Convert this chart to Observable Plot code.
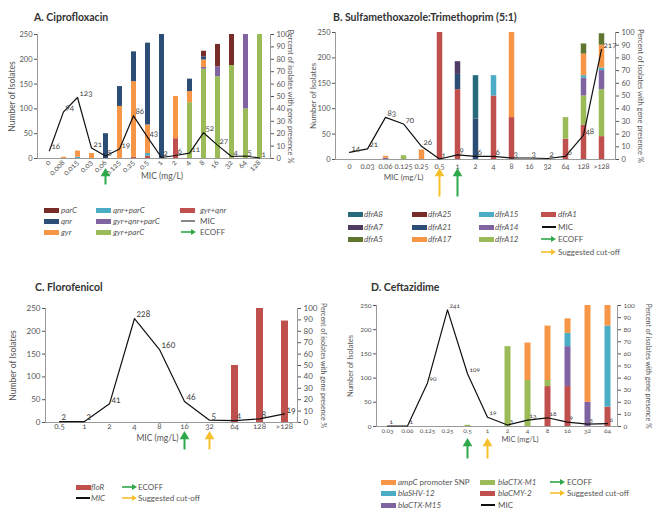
<!DOCTYPE html>
<html><head><meta charset="utf-8">
<script src="https://cdn.jsdelivr.net/npm/d3@7"></script>
<script src="https://cdn.jsdelivr.net/npm/@observablehq/plot@0.6"></script>
<style>
body{margin:0;background:#fff;}
#root{position:relative;width:653px;height:517px;background:#fff;font-family:Lato,"Open Sans",sans-serif;color:#555;overflow:hidden;}
.ttl{position:absolute;font-weight:700;font-size:10.5px;color:#333;white-space:nowrap;}
.pn{position:absolute;}
.lg{position:absolute;font-size:8px;color:#555;white-space:nowrap;line-height:10px;}
.sw{position:absolute;height:5px;}
.sw svg{display:block;}
.it{font-style:italic;}
svg{font-variant-numeric:oldstyle-nums;}
</style></head>
<body><div id="root"></div>
<script>
// ---------- Panel A: Ciprofloxacin ----------
const catsA = ["0","0.008","0.015","0.03","0.06","0.125","0.25","0.5","1","2","4","8","16","32","64","128"];
const micA  = [16,94,123,21,5,19,86,43,2,6,11,52,27,4,5,1];
const genesA = ["gyr+qnr","gyr+parC","gyr+qnr+parC","qnr+parC","gyr","qnr","parC"];
const colorsA = ["#c0504d","#9bbb59","#8064a2","#4bacc6","#f79646","#2c4d75","#772c2a"];
const gyrQnrA     = [0,0,0,0,0,0,1,2,0,16,0,0,0,0,0,0];
const gyrParCA    = [0,0,0,0,0,0,0,0,0,0,45,72,66,75,40,100];
const gyrQnrParCA = [0,0,0,0,0,0,0,0,0,0,0,1.5,8,0,60,0];
const qnrParCA    = [0,0,1,0,0,0,0,2,0,0,0,0,0,0,0,0];
const gyrA        = [0,1,5,4,0,42,61,23,0,34,9,6,0,0,0,0];
const qnrA        = [0,0,0,0,20,16,24,66,100,0,10,2.5,0,0,0,0];
const parCA       = [0,0,0,0,0,0,0,0,0,0,0,4.5,18,25,0,0];
const ecoffA = "0.06";

// ---------- Panel B: Sulfamethoxazole:Trimethoprim ----------
const catsB = ["0","0.03","0.06","0.125","0.25","0.5","1","2","4","8","16","32","64","128",">128"];
const micB  = [14,21,83,70,26,1,9,6,6,3,3,2,6,48,217];
const genesB = ["dfrA1","dfrA12","dfrA14","dfrA15","dfrA17","dfrA5","dfrA21","dfrA8","dfrA7","dfrA25"];
const colorsB = ["#c0504d","#9bbb59","#8064a2","#4bacc6","#f79646","#5f7530","#2c4d75","#276a7c","#4d3b62","#772c2a"];
const dfrA1B  = [0,0,0,0,0,100,55,0,50,33,0,0,16,27,18];
const dfrA12B = [0,0,0,3,0,0,0,0,0,0,0,0,17,23,37];
const dfrA14B = [0,0,1,0,0,0,0,0,0,0,0,0,0,14,15];
const dfrA15B = [0,0,0,0,0,0,0,0,16,0,0,0,0,2,2];
const dfrA17B = [0,0,1.5,0,7.5,0,0,0,0,67,0,0,0,17,18];
const dfrA5B  = [0,0,0,0,0,0,0,0,0,0,0,0,0,8,9];
const dfrA21B = [0,0,0,0,0,0,12,32,0,0,0,0,0,0,0];
const dfrA8B  = [0,0,0,0,0,0,0,34,0,0,0,0,0,0,0];
const dfrA7B  = [0,0,0,0,0,0,10,0,0,0,0,0,0,0,0];
const dfrA25B = [0,0,0,0,0,0,0,0,0,0,0,0,0,0,0];
const ecoffB = "1", cutoffB = "0.5";

// ---------- Panel C: Florofenicol ----------
const catsC = ["0.5","1","2","4","8","16","32","64","128",">128"];
const micC  = [2,2,41,228,160,46,5,4,8,19];
const floRC = [0,0,0,0,0,0,0,50,100,89];
const ecoffC = "16", cutoffC = "32";

// ---------- Panel D: Ceftazidime ----------
const catsD = ["0.03","0.06","0.125","0.25","0.5","1","2","4","8","16","32","64"];
const micD  = [1,1,90,241,109,19,3,13,18,9,5,6];
const genesD = ["blaCMY-2","blaCTX-M1","blaCTX-M15","blaSHV-12","ampC promoter SNP"];
const colorsD = ["#c0504d","#9bbb59","#8064a2","#4bacc6","#f79646"];
const cmy2D   = [0,0,0,0,0,0,0,0,33,33,0,16];
const ctxM1D  = [0,0,0,0,1,0,66,38,5,0,0,0];
const ctxM15D = [0,0,0,0,0,0,0,0,0,33,20,0];
const shv12D  = [0,0,0,0,0,0,0,0,0,11,0,67];
const ampCD   = [0,0,0,0,0,0,0,31,45,12,80,17];
const ecoffD = "0.5", cutoffD = "1";

const GREEN = "#2ea84a", YELLOW = "#f6c02c", AX = "#9a9a9a";

function stackRows(cats, series){
  const rows=[];
  for(const [name, vals] of series) cats.forEach((c,i)=>{ if(vals[i]>0) rows.push({mic:c, gene:name, pct:vals[i]}); });
  return rows;
}

function panel(o){
  const [mt,mr,mb,ml] = o.m;
  const frameH = o.h - mt - mb;
  const k = 250/frameH; // counts per pixel
  const micRows = o.cats.map((c,i)=>({mic:c, count:o.mic[i]}));
  const arrows = [];
  const addArrow=(v,col)=>{
    arrows.push(Plot.link([v],{x1:d=>d,x2:d=>d,y1:-o.arrow[0]*k,y2:-(o.arrow[1]+4)*k,stroke:col,strokeWidth:2}));
    arrows.push(Plot.dot([v],{x:d=>d,y:-(o.arrow[1]+3)*k,symbol:"triangle",fill:col,r:3.6}));
  };
  if(o.cutoff) addArrow(o.cutoff,YELLOW);
  addArrow(o.ecoff,GREEN);
  const svg = Plot.plot({
    width:o.w, height:o.h, marginTop:mt, marginRight:mr, marginBottom:mb, marginLeft:ml,
    style:{fontFamily:"Lato, 'Open Sans', sans-serif", fontSize:o.fs+"px", color:"#555", background:"transparent", overflow:"visible"},
    x:{type:"point", domain:o.cats, padding:o.pad},
    y:{domain:[0,250]},
    color:{domain:o.genes, range:o.colors},
    marks:[
      Plot.ruleX(o.rows, Plot.stackY({x:"mic", y:d=>d.pct*2.5, stroke:"gene", strokeWidth:o.barW})),
      Plot.frame({anchor:"left", stroke:AX}),
      Plot.frame({anchor:"right", stroke:AX}),
      Plot.ruleY([0],{stroke:AX}),
      Plot.line(micRows,{x:"mic",y:"count",stroke:"#111",strokeWidth:1.2}),
      Plot.text(micRows,{x:"mic",y:"count",text:d=>String(d.count),dx:2,dy:-4,textAnchor:"start",fill:"#444",fontSize:o.vfs}),
      Plot.axisX({tickSize:0,tickPadding:o.tp,tickRotate:o.rot,label:null}),
      Plot.axisY({ticks:[0,50,100,150,200,250],tickSize:3,tickPadding:2,label:null}),
      Plot.axisY(d3.range(0,101,10).map(v=>v*2.5),{anchor:"right",tickFormat:v=>v/2.5,tickSize:3,tickPadding:3,label:null}),
      Plot.text(["Number of Isolates"],{frameAnchor:"left",textAnchor:"middle",rotate:-90,dx:o.ldx,fontSize:o.tfs,fill:"#555"}),
      Plot.text(["Percent of isolates with gene presence %"],{frameAnchor:"right",textAnchor:"middle",rotate:90,dx:o.rdx,fontSize:o.rfs,fill:"#555"}),
      Plot.text(["MIC (mg/L)"],{frameAnchor:"bottom",textAnchor:"middle",dx:o.mdx,dy:o.mdy,fontSize:o.tfs,fill:"#555"}),
      ...arrows
    ]
  });
  const div=document.createElement("div");
  div.className="pn"; div.style.left=o.x+"px"; div.style.top=o.y+"px";
  div.appendChild(svg);
  root.appendChild(div);
}

const root=document.getElementById("root");
function title(txt,x,y){const d=document.createElement("div");d.className="ttl";d.style.left=x+"px";d.style.top=y+"px";d.textContent=txt;root.appendChild(d);}
function sw(x,y,col){const d=document.createElement("div");d.className="sw";d.style.left=x+"px";d.style.top=(y-2.5)+"px";d.style.width="15px";d.style.background=col;root.appendChild(d);}
function ln(x,y,col){const d=document.createElement("div");d.className="sw";d.style.left=x+"px";d.style.top=(y-1)+"px";d.style.width="14px";d.style.height="1.5px";d.style.background=col;root.appendChild(d);}
function ar(x,y,col){const d=document.createElement("div");d.className="sw";d.style.left=x+"px";d.style.top=(y-4)+"px";d.style.height="8px";d.innerHTML=`<svg width="16" height="8"><line x1="0" y1="4" x2="11" y2="4" stroke="${col}" stroke-width="1.6"/><path d="M10,1 L15,4 L10,7 Z" fill="${col}"/></svg>`;root.appendChild(d);}
function lt(x,y,html){const d=document.createElement("div");d.className="lg";d.style.left=x+"px";d.style.top=(y-5.5)+"px";d.innerHTML=html;root.appendChild(d);}

// Titles
title("A. Ciprofloxacin",34,11);
title("B. Sulfamethoxazole:Trimethoprim (5:1)",333,11);
title("C. Florofenicol",35,281);
title("D. Ceftazidime",371,281);

panel({x:0,y:25,w:320,h:170,m:[9,50,37,37],pad:0.45,cats:catsA,mic:micA,genes:genesA,colors:colorsA,
  rows:stackRows(catsA,[["gyr+qnr",gyrQnrA],["gyr+parC",gyrParCA],["gyr+qnr+parC",gyrQnrParCA],["qnr+parC",qnrParCA],["gyr",gyrA],["qnr",qnrA],["parC",parCA]]),
  barW:5,rot:-45,tp:3,fs:7.5,vfs:8,tfs:8.5,rfs:7.5,ldx:-25,rdx:20,mdx:8,mdy:20,arrow:[26,12],ecoff:ecoffA});

panel({x:300,y:25,w:353,h:175,m:[7,38,41,35],pad:0.5,cats:catsB,mic:micB,genes:genesB,colors:colorsB,
  rows:stackRows(catsB,[["dfrA1",dfrA1B],["dfrA12",dfrA12B],["dfrA14",dfrA14B],["dfrA15",dfrA15B],["dfrA17",dfrA17B],["dfrA5",dfrA5B],["dfrA21",dfrA21B],["dfrA8",dfrA8B],["dfrA7",dfrA7B],["dfrA25",dfrA25B]]),
  barW:5.5,rot:0,tp:4,fs:7.5,vfs:8,tfs:8,rfs:7.5,ldx:-22,rdx:25,mdx:-72,mdy:20,arrow:[37,11],ecoff:ecoffB,cutoff:cutoffB});

panel({x:0,y:298,w:330,h:160,m:[10,33,36,45],pad:0.5,cats:catsC,mic:micC,genes:["floR"],colors:["#c0504d"],
  rows:stackRows(catsC,[["floR",floRC]]),
  barW:7,rot:0,tp:1,fs:8,vfs:8.5,tfs:8.5,rfs:7,ldx:-32,rdx:26,mdx:-14,mdy:18,arrow:[27,11],ecoff:ecoffC,cutoff:cutoffC});

panel({x:330,y:295,w:323,h:170,m:[10,36,39,46],pad:0.5,cats:catsD,mic:micD,genes:genesD,colors:colorsD,
  rows:stackRows(catsD,[["blaCMY-2",cmy2D],["blaCTX-M1",ctxM1D],["blaCTX-M15",ctxM15D],["blaSHV-12",shv12D],["ampC promoter SNP",ampCD]]),
  barW:6,rot:0,tp:2,fs:6.5,vfs:6.5,tfs:7.5,rfs:7,ldx:-26,rdx:31,mdx:23,mdy:15,arrow:[32,14],ecoff:ecoffD,cutoff:cutoffD});

// Legend A
["parC","qnr","gyr"].forEach((n,r)=>{sw(44,210+r*11,colorsA[genesA.indexOf(n)]);lt(61,210+r*11,`<span class="it">${n}</span>`);});
["qnr+parC","gyr+qnr+parC","gyr+parC"].forEach((n,r)=>{sw(96,210+r*11,colorsA[genesA.indexOf(n)]);lt(113,210+r*11,`<span class="it">${n}</span>`);});
sw(180,210,colorsA[0]);lt(200,210,`<span class="it">gyr+qnr</span>`);
ln(181,221,"#888");lt(200,221,"MIC");
ar(181,232,GREEN);lt(200,232,"ECOFF");

// Legend B
const rowsB=[214,227,239,252];
[["dfrA8","dfrA7","dfrA5"],["dfrA25","dfrA21","dfrA17"],["dfrA15","dfrA14","dfrA12"]].forEach((col,ci)=>{
  const sx=[348,412,479][ci];
  col.forEach((n,r)=>{sw(sx,rowsB[r],colorsB[genesB.indexOf(n)]);lt(sx+16,rowsB[r],`<span class="it">${n}</span>`);});
});
sw(541,rowsB[0],colorsB[0]);lt(558,rowsB[0],`<span class="it">dfrA1</span>`);
ln(542,rowsB[1],"#111");lt(558,rowsB[1],"MIC");
ar(541,rowsB[2],GREEN);lt(558,rowsB[2],"ECOFF");
ar(541,rowsB[3],YELLOW);lt(558,rowsB[3],"Suggested cut-off");

// Legend C
sw(76,487,"#c0504d");lt(91,487,`<span class="it">floR</span>`);
ln(76,498,"#111");lt(91,498,`<span class="it">MIC</span>`);
ar(122,487,GREEN);lt(138,487,"ECOFF");
ar(122,498,YELLOW);lt(138,498,"Suggested cut-off");

// Legend D
const rowsD=[482,493,505];
sw(381,rowsD[0],colorsD[4]);lt(398,rowsD[0],`<span class="it">ampC</span> promoter SNP`);
sw(381,rowsD[1],colorsD[3]);lt(398,rowsD[1],`<span class="it">blaSHV-12</span>`);
sw(381,rowsD[2],colorsD[2]);lt(398,rowsD[2],`<span class="it">blaCTX-M15</span>`);
sw(480,rowsD[0],colorsD[1]);lt(498,rowsD[0],`<span class="it">blaCTX-M1</span>`);
sw(480,rowsD[1],colorsD[0]);lt(498,rowsD[1],`<span class="it">blaCMY-2</span>`);
ln(481,rowsD[2],"#111");lt(498,rowsD[2],"MIC");
ar(550,rowsD[0],GREEN);lt(567,rowsD[0],"ECOFF");
ar(550,rowsD[1],YELLOW);lt(567,rowsD[1],"Suggested cut-off");
</script></body></html>
